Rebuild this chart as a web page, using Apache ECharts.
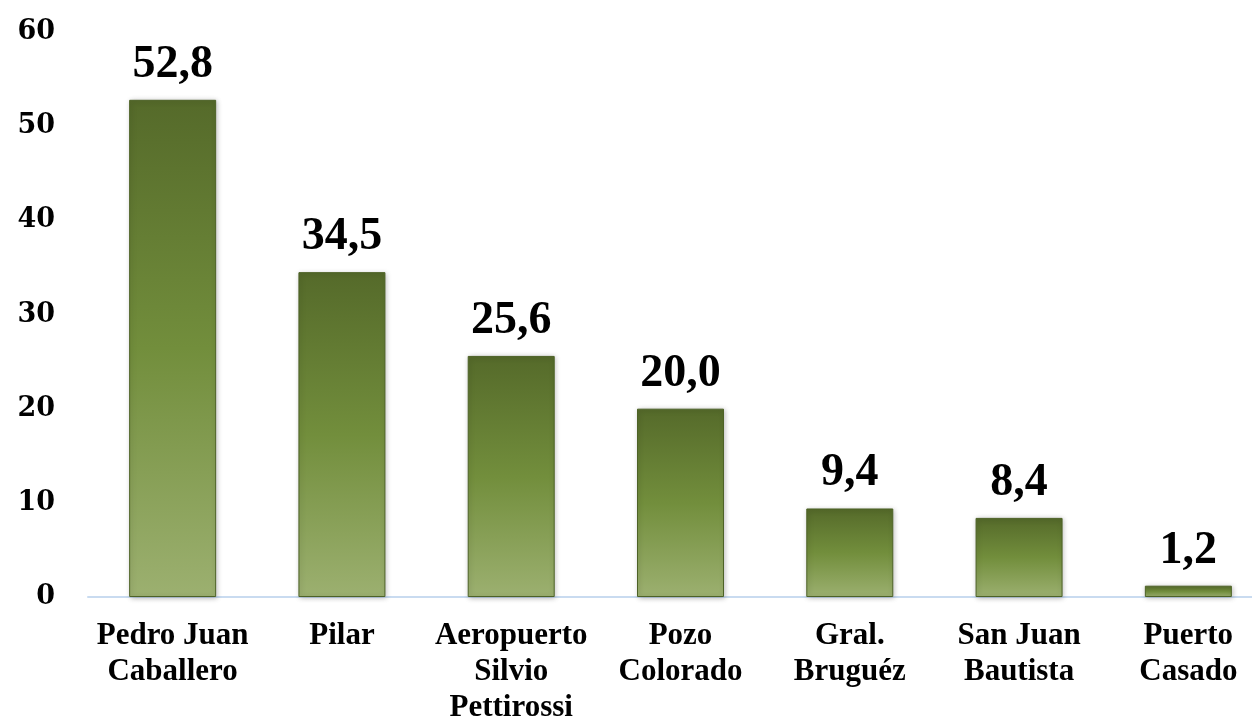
<!DOCTYPE html>
<html>
<head>
<meta charset="utf-8">
<script src="https://cdn.jsdelivr.net/npm/echarts@6/dist/echarts.min.js"></script>
<style>
html,body{margin:0;padding:0;background:#fff;}
#chart{width:1252px;height:724px;}
</style>
</head>
<body>
<div id="chart"></div>
<script>
const categories = [
  "Pedro Juan\nCaballero",
  "Pilar",
  "Aeropuerto\nSilvio\nPettirossi",
  "Pozo\nColorado",
  "Gral.\nBruguéz",
  "San Juan\nBautista",
  "Puerto\nCasado"
];
const values = [52.8, 34.5, 25.6, 20.0, 9.4, 8.4, 1.2];
const yTicks = { min: 0, max: 60, interval: 10 };

const chart = echarts.init(document.getElementById('chart'));
chart.setOption({
  animation: false,
  backgroundColor: '#ffffff',
  grid: { left: 88, width: 1185, top: 32, bottom: 127, containLabel: false, outerBoundsMode: 'none' },
  xAxis: {
    type: 'category',
    data: categories,
    axisLine: { show: true, lineStyle: { color: '#c9dbf0', width: 2 } },
    axisTick: { show: false },
    axisLabel: {
      interval: 0,
      margin: 21,
      color: '#000',
      fontFamily: 'Liberation Serif',
      fontWeight: 'bold',
      fontSize: 31,
      lineHeight: 36,
      align: 'center'
    }
  },
  yAxis: {
    type: 'value',
    min: yTicks.min,
    max: yTicks.max,
    interval: yTicks.interval,
    axisLine: { show: false },
    axisTick: { show: false },
    splitLine: { show: false },
    axisLabel: {
      margin: 33,
      color: '#000',
      fontFamily: 'DejaVu Serif',
      fontWeight: 'bold',
      fontSize: 27
    }
  },
  series: [{
    type: 'bar',
    data: values,
    barWidth: 87,
    itemStyle: {
      color: {
        type: 'linear', x: 0, y: 0, x2: 0, y2: 1,
        colorStops: [
          { offset: 0, color: '#556a2a' },
          { offset: 0.5, color: '#728e3c' },
          { offset: 1, color: '#9cb070' }
        ]
      },
      borderColor: '#4d6226',
      borderWidth: 1,
      shadowColor: 'rgba(0,0,0,0.25)',
      shadowBlur: 5,
      shadowOffsetX: 1,
      shadowOffsetY: 1
    },
    label: {
      show: true,
      position: 'top',
      distance: 12,
      color: '#000',
      fontFamily: 'Liberation Serif',
      fontWeight: 'bold',
      fontSize: 46,
      formatter: p => p.value.toFixed(1).replace('.', ',')
    }
  }]
});
</script>
</body>
</html>
